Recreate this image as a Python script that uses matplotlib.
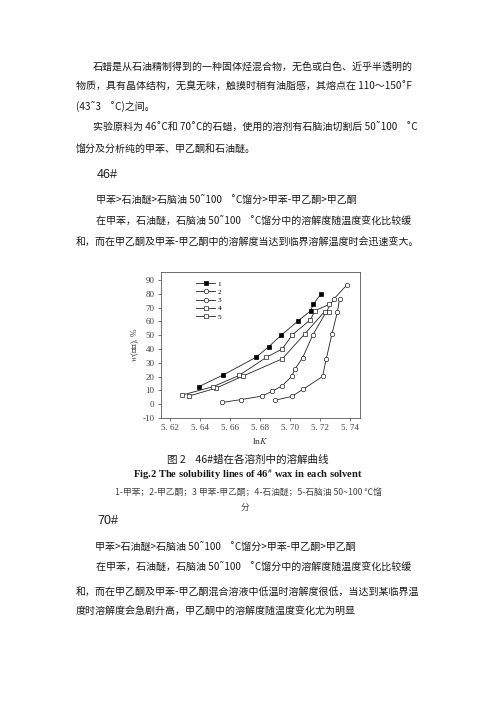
"""
Page with Fig.2 - solubility lines of 46# wax in each solvent
"""

import matplotlib
matplotlib.use("Agg")
import matplotlib.pyplot as plt

W, H = 496, 702
CJK = ["Noto Sans CJK SC", "DejaVu Sans"]
SERIF = ["Liberation Serif", "Noto Sans CJK SC", "DejaVu Sans"]
INK = "#1a1a1a"

plt.rcParams.update({
    "font.family": CJK,
    "mathtext.fontset": "stix",
    "axes.edgecolor": "#555555",
    "axes.linewidth": 0.6,
    "xtick.color": "#444444",
    "ytick.color": "#444444",
})

# ---- data ----
x_toluene = [5.6393, 5.6554, 5.6776, 5.6860, 5.6940, 5.7051, 5.7137, 5.7155, 5.7208]
y_toluene = [12.7, 21.1, 34.1, 41.8, 49.8, 60.1, 67.6, 72.4, 80.1]

x_mek = [5.6898, 5.7013, 5.7090, 5.7217, 5.7241, 5.7279, 5.7316, 5.7330]
y_mek = [2.8, 5.7, 11.0, 20.1, 32.7, 50.7, 67.1, 76.3]

x_mix = [5.6550, 5.6672, 5.6814, 5.6880, 5.6949, 5.7011, 5.7033, 5.7084, 5.7152, 5.7290, 5.7378]
y_mix = [1.3, 3.3, 5.9, 9.3, 13.4, 20.1, 25.4, 33.6, 50.2, 76.0, 86.4]

x_ether = [5.6328, 5.6510, 5.6687, 5.6949, 5.7099, 5.7230, 5.7261]
y_ether = [5.9, 11.7, 20.4, 32.9, 51.0, 67.1, 67.1]

x_naphtha = [5.6282, 5.6488, 5.6661, 5.6842, 5.6949, 5.7015, 5.7135, 5.7168, 5.7263]
y_naphtha = [6.6, 12.7, 20.8, 33.9, 40.1, 50.2, 61.1, 67.8, 72.4]

x_ticks = [5.62, 5.64, 5.66, 5.68, 5.70, 5.72, 5.74]
x_tick_labels = ["5. 62", "5. 64", "5. 66", "5. 68", "5. 70", "5. 72", "5. 74"]
y_ticks = [-10, 0, 10, 20, 30, 40, 50, 60, 70, 80, 90]
legend_labels = ["1", "2", "3", "4", "5"]

body_lines = [
    (93, 67, "石蜡是从石油精制得到的一种固体烃混合物，无色或白色、近乎半透明的"),
    (76, 87, "物质，具有晶体结构，无臭无味，触摸时稍有油脂感，其熔点在 110～150˚F"),
    (76, 107, "(43˜3    ˚C)之间。"),
    (93, 128, "实验原料为 46˚C和 70˚C的石蜡，使用的溶剂有石脑油切割后 50˜100    ˚C"),
    (76, 149, "馏分及分析纯的甲苯、甲乙酮和石油醚。"),
    (96, 201, "甲苯>石油醚>石脑油 50˜100    ˚C馏分>甲苯-甲乙酮>甲乙酮"),
    (96, 222, "在甲苯，石油醚，石脑油 50˜100    ˚C馏分中的溶解度随温度变化比较缓"),
    (76, 243, "和，而在甲乙酮及甲苯-甲乙酮中的溶解度当达到临界溶解温度时会迅速变大。"),
    (95, 548, "甲苯>石油醚>石脑油 50˜100    ˚C馏分>甲苯-甲乙酮>甲乙酮"),
    (96, 568, "在甲苯，石油醚，石脑油 50˜100    ˚C馏分中的溶解度随温度变化比较缓"),
    (76, 592, "和，而在甲乙酮及甲苯-甲乙酮混合溶液中低温时溶解度很低，当达到某临界温"),
    (76, 612, "度时溶解度会急剧升高，甲乙酮中的溶解度随温度变化尤为明显"),
]

fig = plt.figure(figsize=(W / 100, H / 100), dpi=100)
fig.patch.set_facecolor("white")


def put(x, y, s, **kw):
    kw.setdefault("fontsize", 7.2)
    kw.setdefault("color", INK)
    kw.setdefault("family", CJK)
    fig.text(x / W, 1 - y / H, s, va="center", **kw)


for x, y, s in body_lines:
    put(x, y, s)

put(97, 175, "46#", fontsize=9, family=["Liberation Sans", "DejaVu Sans"])
put(97, 521, "70#", fontsize=9, family=["Liberation Sans", "DejaVu Sans"])

put(248, 460, "图 2    46#蜡在各溶剂中的溶解曲线", ha="center", fontsize=7.6)
put(248, 475, r"Fig.2 The solubility lines of 46$^{\#}$ wax in each solvent",
    ha="center", fontsize=7.6, weight="bold", family=["Liberation Serif"])
put(248, 492, "1-甲苯；2-甲乙酮；3 甲苯-甲乙酮；4-石油醚；5-石脑油 50~100 ℃馏",
    ha="center", fontsize=6.3, color="#444444")
put(245, 507, "分", ha="center", fontsize=6.3, color="#444444")

# ---- chart ----
ax = fig.add_axes([160.7 / W, 1 - 418 / H, (360 - 160.7) / W, (418 - 272) / H])
line_kw = dict(color="#222222", linewidth=0.6, markersize=3.2, markeredgewidth=0.5)
ax.plot(x_toluene, y_toluene, marker="s", markerfacecolor="black",
        markeredgecolor="black", label=legend_labels[0], **line_kw)
ax.plot(x_mek, y_mek, marker="o", markerfacecolor="white",
        markeredgecolor="#222222", label=legend_labels[1], **line_kw)
ax.plot(x_mix, y_mix, marker="o", markerfacecolor="white",
        markeredgecolor="#222222", label=legend_labels[2], **line_kw)
ax.plot(x_ether, y_ether, marker="s", markerfacecolor="white",
        markeredgecolor="#222222", label=legend_labels[3], **line_kw)
ax.plot(x_naphtha, y_naphtha, marker="s", markerfacecolor="white",
        markeredgecolor="#222222", label=legend_labels[4], **line_kw)

ax.set_xlim(5.614, 5.7466)
ax.set_ylim(-10, 95.8)
ax.set_xticks(x_ticks)
ax.set_xticklabels(x_tick_labels, family=SERIF, fontsize=6.5)
ax.set_yticks(y_ticks)
ax.set_yticklabels([str(v) for v in y_ticks], family=SERIF, fontsize=6.5)
ax.tick_params(direction="out", length=2.5, width=0.5, pad=2)

ax.set_xlabel(r"ln$K$", family=SERIF, fontsize=6.8, color="#333333", labelpad=3)
ax.set_ylabel(r"$w$(石蜡), %", family=SERIF, fontsize=6.5, color="#333333", labelpad=1)

ax.legend(loc="upper left", bbox_to_anchor=(0.165, 0.96), frameon=False,
          labelspacing=0.3, handlelength=2.6, handletextpad=0.3,
          borderaxespad=0, prop={"family": SERIF, "size": 5.2})

fig.savefig("out.png", dpi=100)
